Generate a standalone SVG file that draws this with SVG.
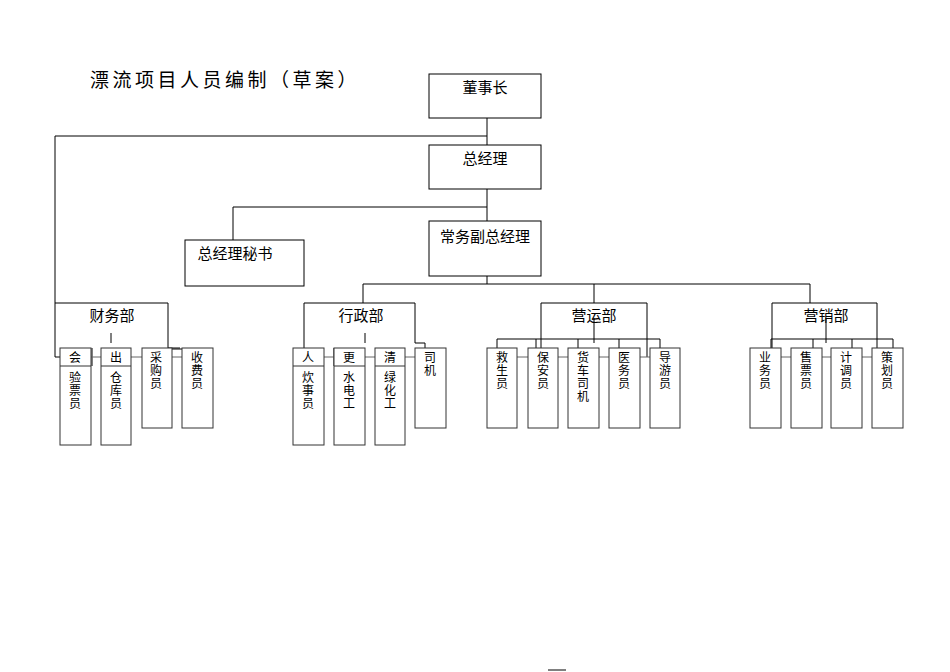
<svg xmlns="http://www.w3.org/2000/svg" width="950" height="672" viewBox="0 0 950 672">
<style>
.b{fill:#fff;stroke:#000;stroke-width:1}
.s{fill:#fff;stroke:#333;stroke-width:1}
.l{fill:none;stroke:#000;stroke-width:1}
.g{fill:none;stroke:#666;stroke-width:1}
text{font-family:"Liberation Serif","Noto Sans CJK SC",serif;fill:#000}
.t{font-size:15px;text-anchor:middle}
.v{font-size:12px;text-anchor:middle}
</style>
<rect width="950" height="672" fill="#fff"/>
<text x="90" y="87" font-size="19" letter-spacing="3.5">漂流项目人员编制（草案）</text>
<g id="connectors">
<path class="l" d="M487 118V145M487 136H55V357H60M487 189V221M233 207H487M233 207V240M487 276V284M363 284H810M363 284V303M594 284V303M810 284V303"/>
<path class="l" d="M55 303H168V348M111 333V343M92 348V366M121 348V366M168 348H180M170 349H188V356"/>
<path class="l" d="M304 303H415V343H425V350M304 303V357M365 333V343M334 348V366M385 348V360"/>
<path class="l" d="M541 303H647V357M541 303V348M594 318V343M497 339H660V357M497 339V352M536 339V348M578 339V352M619 339V348"/>
<path class="l" d="M772 303H877V348M772 303V348M826 318V343M771 339H893V351M771 339V350M813 339V351M852 339V350"/>
<path class="g" d="M91 357H101M131 357H142M172 357H182M324 357H334M365 357H375M405 357H415M517 357H528M558 357H568M599 357H609M640 357H650M781 357H791M822 357H831M862 357H872"/>
<path class="l" d="M548 670H566"/>
</g>
<g id="n-dsz"><rect class="b" x="429" y="74" width="112" height="44"/><text class="t" x="485" y="93">董事长</text></g>
<g id="n-zjl"><rect class="b" x="429" y="145" width="112" height="44"/><text class="t" x="485" y="164">总经理</text></g>
<g id="n-cw"><rect class="b" x="429" y="221" width="112" height="55"/><text class="t" x="485" y="242">常务副总经理</text></g>
<g id="n-ms"><rect class="b" x="185" y="240" width="119" height="46"/><text class="t" x="235" y="259">总经理秘书</text></g>
<g id="d-cwb"><text class="t" x="112" y="321">财务部</text></g>
<g id="d-xzb"><text class="t" x="361" y="321">行政部</text></g>
<g id="d-yyb"><text class="t" x="594" y="321">营运部</text></g>
<g id="d-yxb"><text class="t" x="826" y="321">营销部</text></g>
<g id="n1"><rect class="s" x="60" y="348" width="31" height="97"/><line class="s" x1="60" y1="366" x2="91" y2="366"/><text class="v" x="75" y="362">会</text><text class="v" x="75" y="382">验</text><text class="v" x="75" y="395">票</text><text class="v" x="75" y="408">员</text></g>
<g id="n2"><rect class="s" x="101" y="348" width="30" height="97"/><line class="s" x1="101" y1="366" x2="131" y2="366"/><text class="v" x="116" y="362">出</text><text class="v" x="116" y="382">仓</text><text class="v" x="116" y="395">库</text><text class="v" x="116" y="408">员</text></g>
<g id="n3"><rect class="s" x="142" y="348" width="30" height="80"/><text class="v" x="156" y="362">采</text><text class="v" x="156" y="375">购</text><text class="v" x="156" y="388">员</text></g>
<g id="n4"><rect class="s" x="182" y="348" width="31" height="80"/><text class="v" x="197" y="362">收</text><text class="v" x="197" y="375">费</text><text class="v" x="197" y="388">员</text></g>
<g id="n5"><rect class="s" x="293" y="348" width="31" height="97"/><line class="s" x1="293" y1="366" x2="324" y2="366"/><text class="v" x="308" y="362">人</text><text class="v" x="308" y="382">炊</text><text class="v" x="308" y="395">事</text><text class="v" x="308" y="408">员</text></g>
<g id="n6"><rect class="s" x="334" y="348" width="31" height="97"/><line class="s" x1="334" y1="366" x2="365" y2="366"/><text class="v" x="349" y="362">更</text><text class="v" x="349" y="382">水</text><text class="v" x="349" y="395">电</text><text class="v" x="349" y="408">工</text></g>
<g id="n7"><rect class="s" x="375" y="348" width="30" height="97"/><line class="s" x1="375" y1="366" x2="405" y2="366"/><text class="v" x="390" y="362">清</text><text class="v" x="390" y="382">绿</text><text class="v" x="390" y="395">化</text><text class="v" x="390" y="408">工</text></g>
<g id="n8"><rect class="s" x="415" y="348" width="31" height="80"/><text class="v" x="430" y="362">司</text><text class="v" x="430" y="375">机</text></g>
<g id="n9"><rect class="s" x="487" y="348" width="30" height="80"/><text class="v" x="502" y="362">救</text><text class="v" x="502" y="375">生</text><text class="v" x="502" y="388">员</text></g>
<g id="n10"><rect class="s" x="528" y="348" width="30" height="80"/><text class="v" x="543" y="362">保</text><text class="v" x="543" y="375">安</text><text class="v" x="543" y="388">员</text></g>
<g id="n11"><rect class="s" x="568" y="348" width="31" height="80"/><text class="v" x="583" y="362">货</text><text class="v" x="583" y="375">车</text><text class="v" x="583" y="388">司</text><text class="v" x="583" y="401">机</text></g>
<g id="n12"><rect class="s" x="609" y="348" width="31" height="80"/><text class="v" x="624" y="362">医</text><text class="v" x="624" y="375">务</text><text class="v" x="624" y="388">员</text></g>
<g id="n13"><rect class="s" x="650" y="348" width="30" height="80"/><text class="v" x="665" y="362">导</text><text class="v" x="665" y="375">游</text><text class="v" x="665" y="388">员</text></g>
<g id="n14"><rect class="s" x="750" y="348" width="31" height="80"/><text class="v" x="765" y="362">业</text><text class="v" x="765" y="375">务</text><text class="v" x="765" y="388">员</text></g>
<g id="n15"><rect class="s" x="791" y="348" width="31" height="80"/><text class="v" x="806" y="362">售</text><text class="v" x="806" y="375">票</text><text class="v" x="806" y="388">员</text></g>
<g id="n16"><rect class="s" x="831" y="348" width="31" height="80"/><text class="v" x="846" y="362">计</text><text class="v" x="846" y="375">调</text><text class="v" x="846" y="388">员</text></g>
<g id="n17"><rect class="s" x="872" y="348" width="31" height="80"/><text class="v" x="887" y="362">策</text><text class="v" x="887" y="375">划</text><text class="v" x="887" y="388">员</text></g>
</svg>
